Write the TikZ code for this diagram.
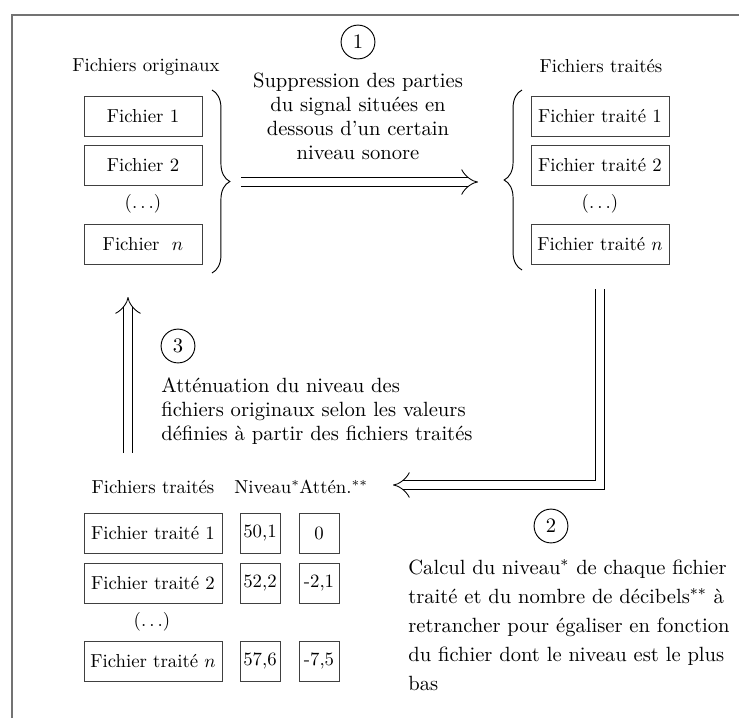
\documentclass[tikz,border=0pt]{standalone}
\usetikzlibrary{arrows.meta,decorations.pathreplacing}
\begin{document}
\begin{tikzpicture}[x=0.532pt,y=-0.532pt,
  filebox/.style={draw=black!75, line width=0.5pt, minimum height=21.3pt, inner sep=1pt, font=\fontsize{10}{12}\selectfont},
  origbox/.style={filebox, minimum width=62.8pt},
  trtbox/.style={filebox, minimum width=73.4pt},
  numbox/.style={filebox, minimum width=21.3pt},
  plain/.style={inner sep=0pt, font=\fontsize{10}{12}\selectfont},
  desc/.style={inner sep=0pt, font=\fontsize{10.95}{12.8}\selectfont},
  stepnum/.style={draw, circle, minimum size=18pt, inner sep=0pt, line width=0.5pt, font=\fontsize{10.95}{12}\selectfont},
  dbl/.style={double, double distance=4.5pt, line width=0.45pt, line join=miter, -{Implies[length=8.5pt,width=22pt]}},
  bracestyle/.style={decorate, decoration={brace, amplitude=9.5pt}, line width=0.5pt},
  frame/.style={draw=black!55, line width=1pt}
]
\useasboundingbox (0,0) rectangle (739,718);
\draw[frame] (12,718) -- (12,15) -- (739,15);

% left column
\node[plain] (laborig) at (146,67) {Fichiers originaux};
\node[origbox] (f1) at (143,116) {Fichier 1};
\node[origbox] (f2) at (143,165) {Fichier 2};
\node[plain] (fdots) at (143,204) {($\ldots$)};
\node[origbox] (fn) at (143,244) {Fichier~ $n$};

% right column
\node[plain] (labtrt) at (601,66) {Fichiers traités};
\node[trtbox] (t1) at (600,116) {Fichier traité 1};
\node[trtbox] (t2) at (600,165) {Fichier traité 2};
\node[plain] (tdots) at (600,204) {($\ldots$)};
\node[trtbox] (tn) at (600,244) {Fichier traité $n$};

% braces
\coordinate (lbtop) at (212,90);
\coordinate (lbbot) at (212,273);
\coordinate (rbtop) at (522,90);
\coordinate (rbbot) at (522,270);
\draw[bracestyle] (lbtop) -- (lbbot);
\draw[bracestyle] (rbbot) -- (rbtop);

% step 1
\node[stepnum] (c1) at (358,42) {1};
\node[desc, align=center] (txt1) at (358,116) {Suppression des parties\\du signal situées en\\dessous d'un certain\\niveau sonore};
\coordinate (a1s) at (241,182);
\coordinate (a1e) at (478,182);
\draw[dbl] (a1s) -- (a1e);

% step 2
\coordinate (a2s) at (600,289);
\coordinate (a2e) at (393,485);
\draw[dbl] (a2s) |- (a2e);
\node[stepnum] (c2) at (551,526) {2};
\node[desc, anchor=west, align=left, font=\fontsize{10.95}{15.4}\selectfont] (txt2) at (408,625) {Calcul du niveau$^{*}$ de chaque fichier\\traité et du nombre de décibels$^{**}$ à\\retrancher pour égaliser en fonction\\du fichier dont le niveau est le plus\\bas};

% step 3
\coordinate (a3s) at (128,453);
\coordinate (a3e) at (128,297);
\draw[dbl] (a3s) -- (a3e);
\node[stepnum] (c3) at (178,346) {3};
\node[desc, anchor=west, align=left] (txt3) at (161,411) {Atténuation du niveau des\\fichiers originaux selon les valeurs\\définies à partir des fichiers traités};

% bottom table
\node[plain] (hdr) at (153,487) {Fichiers traités};
\node[plain, anchor=west] (hniv) at (234,487) {Niveau$^{*}$};
\node[plain, anchor=west] (hatt) at (299,487) {Attén.$^{**}$};
\node[trtbox] (r1) at (153,533) {Fichier traité 1};
\node[numbox] (n1) at (260,533) {50,1};
\node[numbox] (e1) at (319,533) {0};
\node[trtbox] (r2) at (153,583) {Fichier traité 2};
\node[numbox] (n2) at (260,583) {52,2};
\node[numbox] (e2) at (319,583) {-2,1};
\node[plain] (rdots) at (152,622) {($\ldots$)};
\node[trtbox] (rn) at (153,661) {Fichier traité $n$};
\node[numbox] (nn) at (260,661) {57,6};
\node[numbox] (en) at (319,661) {-7,5};
\end{tikzpicture}
\end{document}
